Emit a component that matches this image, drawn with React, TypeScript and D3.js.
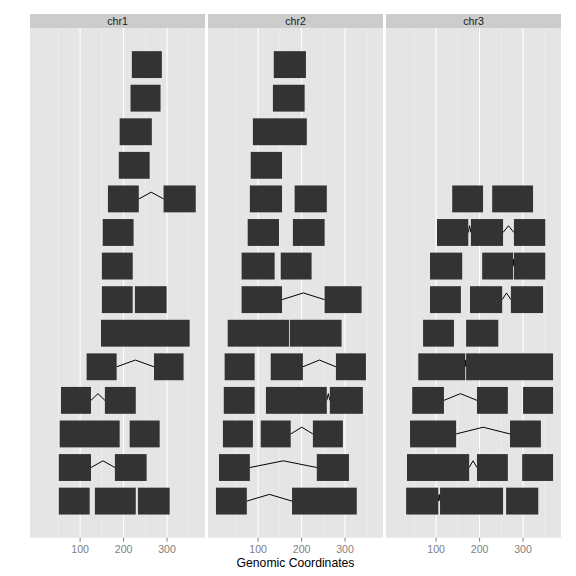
import React from 'react';
import * as d3 from 'd3';

// rows counted from the top of each panel: [row, start, end]
const chr1Exons: [number, number, number][] = [
  [1, 219, 288], [2, 216, 285], [3, 191, 265], [4, 189, 260],
  [5, 164, 235], [5, 292, 366], [6, 152, 223], [7, 150, 221],
  [8, 150, 221], [8, 226, 299], [9, 148, 352], [10, 115, 184], [10, 270, 338],
  [11, 56, 125], [11, 157, 228], [12, 53, 191], [12, 214, 283],
  [13, 51, 125], [13, 180, 253], [14, 51, 122], [14, 134, 228], [14, 233, 306],
];
const chr1Introns: [number, number, number][] = [
  [5, 235, 292], [10, 184, 270], [11, 125, 157], [13, 125, 180],
];

const chr2Exons: [number, number, number][] = [
  [1, 136, 210], [2, 134, 207], [3, 88, 212], [4, 83, 155],
  [5, 81, 155], [5, 184, 258], [6, 76, 148], [6, 180, 253],
  [7, 62, 138], [7, 152, 223], [8, 62, 155], [8, 253, 338],
  [9, 30, 171], [9, 173, 292], [10, 23, 92], [10, 129, 203], [10, 279, 348],
  [11, 21, 92], [11, 118, 258], [11, 265, 341], [12, 19, 88], [12, 106, 175], [12, 226, 295],
  [13, 10, 81], [13, 235, 309], [14, 3, 74], [14, 178, 327],
];
const chr2Introns: [number, number, number][] = [
  [8, 155, 253], [10, 203, 279], [11, 258, 265], [12, 175, 226],
  [13, 81, 235], [14, 74, 178],
];

const chr3Exons: [number, number, number][] = [
  [5, 137, 208], [5, 229, 323],
  [6, 102, 174], [6, 180, 254], [6, 279, 351],
  [7, 86, 160], [7, 206, 277], [7, 279, 351],
  [8, 86, 157], [8, 178, 252], [8, 272, 346],
  [9, 70, 141], [9, 169, 243], [10, 59, 167], [10, 169, 369],
  [11, 45, 118], [11, 194, 265], [11, 300, 369], [12, 40, 146], [12, 270, 341],
  [13, 33, 176], [13, 194, 265], [13, 298, 369],
  [14, 31, 105], [14, 109, 254], [14, 261, 335],
];
const chr3Introns: [number, number, number][] = [
  [6, 174, 180], [6, 254, 279], [7, 277, 279], [8, 252, 272],
  [10, 167, 169], [11, 118, 194], [12, 146, 270], [13, 176, 194], [14, 105, 109],
];

const chromosomes = ['chr1', 'chr2', 'chr3'];
const exonSets = [chr1Exons, chr2Exons, chr3Exons];
const intronSets = [chr1Introns, chr2Introns, chr3Introns];
const majorTicks = [100, 200, 300];
const minorTicks = [50, 150, 250, 350];
const nRows = 14;

const font = '"Liberation Sans", Arial, Helvetica, sans-serif';

export default function App() {
  const width = 576;
  const height = 576;
  const panelTop = 28;
  const panelBottom = 537.7;
  const stripTop = 14;
  const panelLefts = [30, 208, 386];
  const panelWidth = 175;

  const allX = exonSets.flat().flatMap(d => [d[1], d[2]]);
  const xMin = d3.min(allX) as number;
  const xMax = d3.max(allX) as number;
  const xPad = (xMax - xMin) * 0.05;

  // y value: top row gets highest value (ggplot style), rects span +-0.4
  const yLo = 1 - 0.4;
  const yHi = nRows + 0.4;
  const yPad = (yHi - yLo) * 0.05;
  const y = d3.scaleLinear().domain([yLo - yPad, yHi + yPad]).range([panelBottom, panelTop]);
  const rowVal = (r: number) => nRows + 1 - r;

  return (
    <svg width={width} height={height} style={{ position: 'absolute', left: 0, top: 0 }}>
      <rect x={0} y={0} width={width} height={height} fill="#ffffff" />
      {chromosomes.map((chr, i) => {
        const left = panelLefts[i];
        const x = d3.scaleLinear().domain([xMin - xPad, xMax + xPad]).range([left, left + panelWidth]);
        const line = d3.line<[number, number]>().x(d => x(d[0])).y(d => y(d[1]));
        return (
          <g key={chr}>
            <rect x={left} y={stripTop} width={panelWidth} height={panelTop - stripTop} fill="#cccccc" />
            <text x={left + panelWidth / 2} y={25} textAnchor="middle"
              fontFamily={font} fontSize={10.6} fill="#1a1a1a">{chr}</text>
            <rect x={left} y={panelTop} width={panelWidth} height={panelBottom - panelTop} fill="#e5e5e5" />
            {minorTicks.map(t => (
              <line key={'m' + t} x1={x(t)} x2={x(t)} y1={panelTop} y2={panelBottom} stroke="#f2f2f2" strokeWidth={0.6} />
            ))}
            {majorTicks.map(t => (
              <line key={'M' + t} x1={x(t)} x2={x(t)} y1={panelTop} y2={panelBottom} stroke="#ffffff" strokeWidth={1.1} />
            ))}
            {intronSets[i].map((d, j) => {
              const v = rowVal(d[0]);
              const pts: [number, number][] = [[d[1], v], [(d[1] + d[2]) / 2, v + 0.2], [d[2], v]];
              return <path key={'i' + j} d={line(pts) || ''} fill="none" stroke="#000000" strokeWidth={1} />;
            })}
            {exonSets[i].map((d, j) => {
              const v = rowVal(d[0]);
              return (
                <rect key={'e' + j} x={x(d[1])} width={x(d[2]) - x(d[1])}
                  y={y(v + 0.4)} height={y(v - 0.4) - y(v + 0.4)} fill="#333333" />
              );
            })}
            {majorTicks.map(t => (
              <g key={'t' + t}>
                <line x1={x(t)} x2={x(t)} y1={panelBottom} y2={panelBottom + 4} stroke="#7f7f7f" strokeWidth={1} />
                <text x={x(t)} y={553.3} textAnchor="middle"
                  fontFamily={font} fontSize={10.6} fill="#7f7f7f">{t}</text>
              </g>
            ))}
          </g>
        );
      })}
      <text x={(panelLefts[0] + panelLefts[2] + panelWidth) / 2} y={567} textAnchor="middle"
        fontFamily={font} fontSize={12.2} fill="#000000">Genomic Coordinates</text>
    </svg>
  );
}
